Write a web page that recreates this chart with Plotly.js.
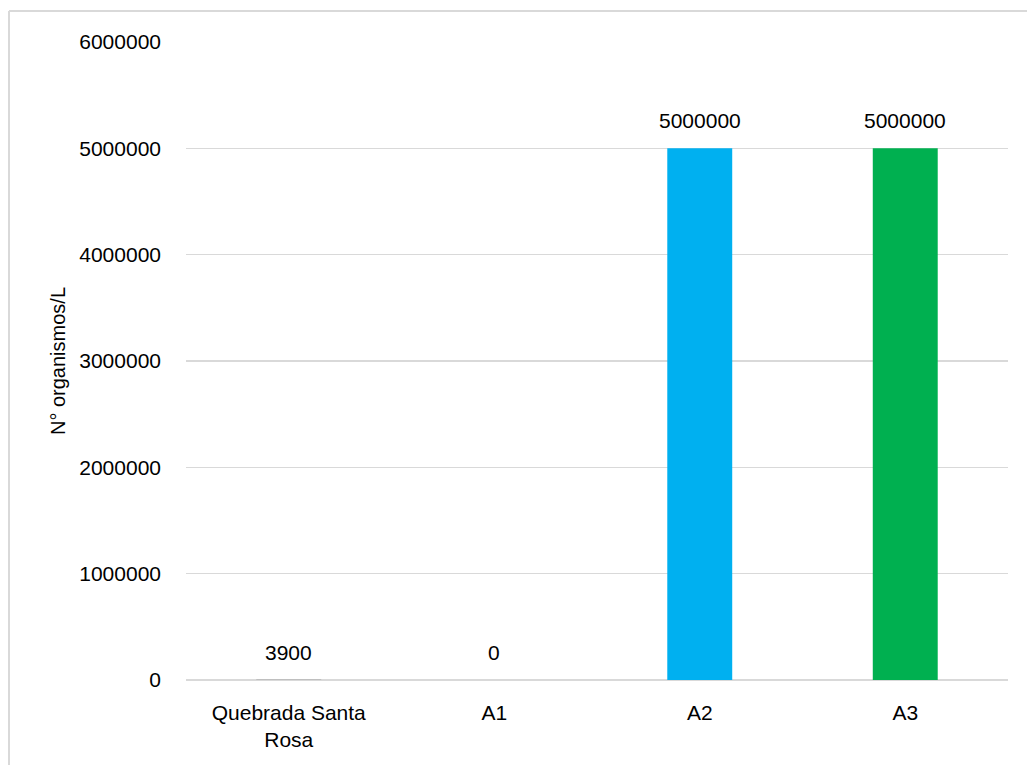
<!DOCTYPE html>
<html>
<head>
<meta charset="utf-8">
<script src="https://cdn.plot.ly/plotly-3.0.1.min.js"></script>
<style>html,body{margin:0;padding:0;background:#fff;}#chart{width:1027px;height:765px;}</style>
</head>
<body>
<div id="chart"></div>
<script>
var categories = ["Quebrada Santa<br>Rosa", "A1", "A2", "A3"];
var values = [3900, 0, 5000000, 5000000];
var barColors = ["#A5A5A5", "#FFC000", "#00B0F0", "#00B050"];
var yTickValues = [0, 1000000, 2000000, 3000000, 4000000, 5000000, 6000000];
var yTitle = "N° organismos/L";

var fontFamily = "Liberation Sans, Arial, sans-serif";

var trace = {
  type: "bar",
  x: categories,
  y: values,
  marker: {color: barColors},
  hoverinfo: "skip"
};

var annotations = categories.map(function (c, i) {
  return {
    x: c, y: values[i], xref: "x", yref: "y",
    text: String(values[i]),
    showarrow: false, yanchor: "bottom", yshift: 14,
    font: {family: fontFamily, size: 21, color: "#000"}
  };
});

var gridColor = "#d9d9d9";
var layout = {
  width: 1027, height: 765,
  margin: {l: 186, r: 19, t: 42, b: 85},
  paper_bgcolor: "#fff", plot_bgcolor: "#fff",
  showlegend: false,
  bargap: 0.684,
  font: {family: fontFamily, size: 21, color: "#000"},
  xaxis: {
    type: "category",
    showgrid: false, zeroline: false, showline: false,
    ticks: "", ticklabelstandoff: 18,
    tickfont: {family: fontFamily, size: 21, color: "#000"}
  },
  yaxis: {
    range: [0, 6000000],
    tickvals: yTickValues,
    ticktext: yTickValues.map(String),
    showgrid: true, gridcolor: gridColor, gridwidth: 1.5,
    zeroline: true, zerolinecolor: gridColor, zerolinewidth: 1.5,
    showline: false, ticks: "", ticklabelstandoff: 24,
    tickfont: {family: fontFamily, size: 21, color: "#000"},
    title: {text: yTitle, standoff: 8, font: {family: fontFamily, size: 20, color: "#000"}}
  },
  annotations: annotations,
  shapes: [
    {type: "line", xref: "paper", yref: "paper", x0: -0.2153, x1: -0.2153, y0: -0.3, y1: 1.0486,
     line: {color: gridColor, width: 2}},
    {type: "line", xref: "paper", yref: "paper", x0: -0.2153, x1: 1.1, y0: 1.0486, y1: 1.0486,
     line: {color: gridColor, width: 2}}
  ]
};

Plotly.newPlot("chart", [trace], layout, {displayModeBar: false, staticPlot: true});
</script>
</body>
</html>
